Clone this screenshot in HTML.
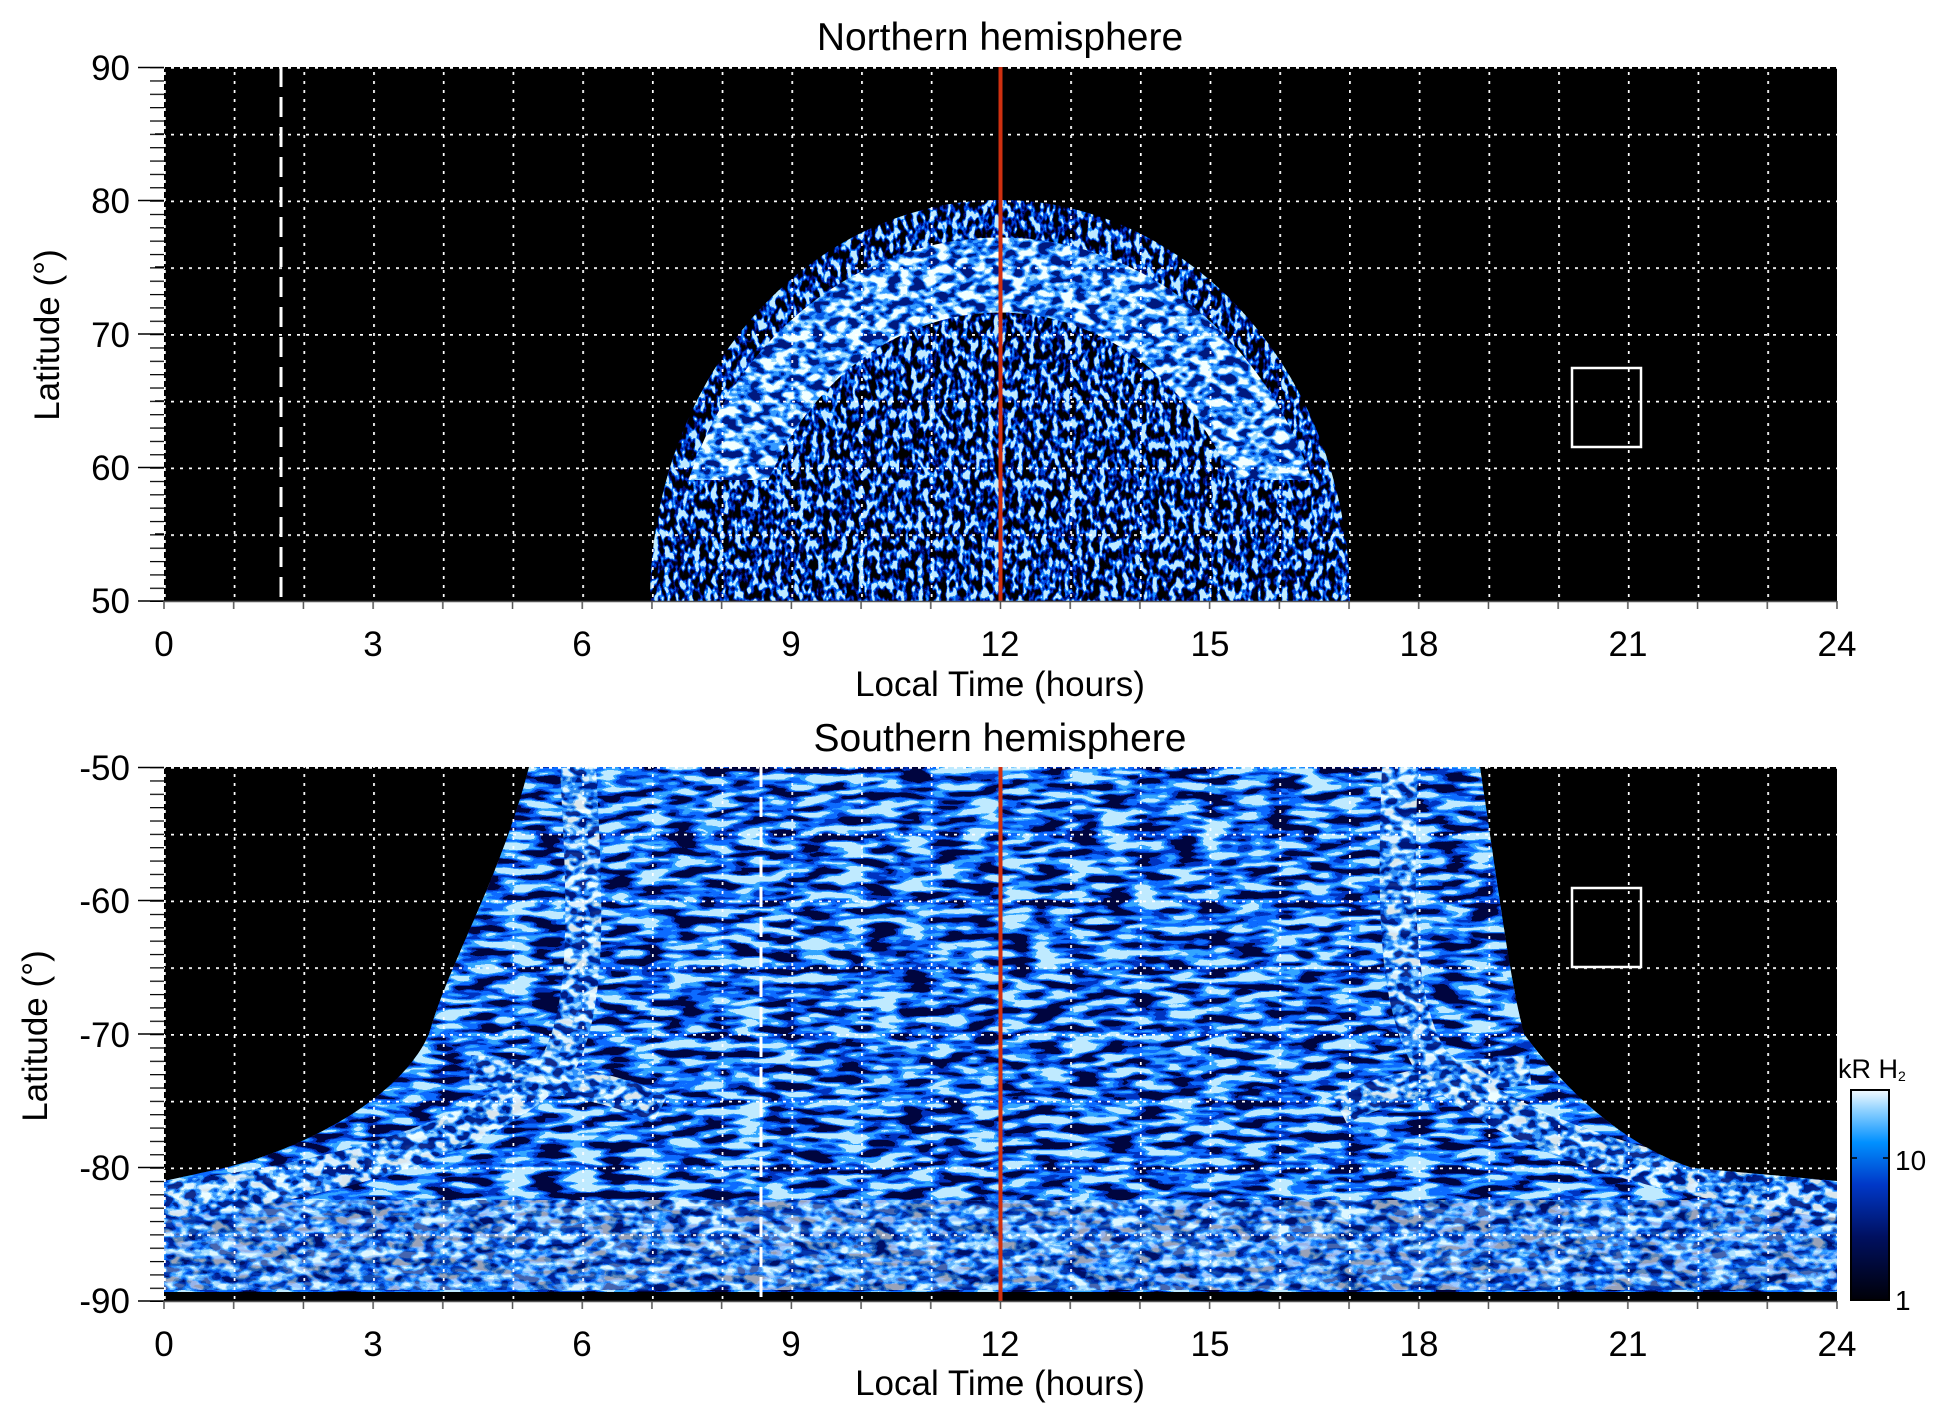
<!DOCTYPE html>
<html><head><meta charset="utf-8"><style>html,body{margin:0;padding:0;background:#fff}svg{display:block}text{font-family:"Liberation Sans",Arial,sans-serif;fill:#000}</style></head>
<body>
<svg width="1950" height="1423" viewBox="0 0 1950 1423" xmlns="http://www.w3.org/2000/svg">
<defs>
<filter id="nd" x="0" y="0" width="1950" height="1423" filterUnits="userSpaceOnUse" color-interpolation-filters="sRGB">
<feTurbulence type="fractalNoise" baseFrequency="0.17 0.1" numOctaves="2" seed="3"/>
<feColorMatrix type="matrix" values="3.2 0 0 0 -1.1  3.2 0 0 0 -1.1  3.2 0 0 0 -1.1  0 0 0 0 1"/>
<feComponentTransfer><feFuncR type="discrete" tableValues="0 0 0 0 0.1 0.75"/><feFuncG type="discrete" tableValues="0 0 0.05 0.25 0.55 0.92"/><feFuncB type="discrete" tableValues="0 0.12 0.45 0.85 1 1"/></feComponentTransfer>
</filter>
<filter id="nb" x="0" y="0" width="1950" height="1423" filterUnits="userSpaceOnUse" color-interpolation-filters="sRGB">
<feTurbulence type="fractalNoise" baseFrequency="0.08 0.12" numOctaves="2" seed="7"/>
<feColorMatrix type="matrix" values="3 0 0 0 -1  3 0 0 0 -1  3 0 0 0 -1  0 0 0 0 1"/>
<feComponentTransfer><feFuncR type="discrete" tableValues="0 0.02 0.2 0.6 0.95"/><feFuncG type="discrete" tableValues="0.1 0.35 0.6 0.85 1"/><feFuncB type="discrete" tableValues="0.5 0.9 1 1 1"/></feComponentTransfer>
</filter>
<filter id="nm" x="0" y="0" width="1950" height="1423" filterUnits="userSpaceOnUse" color-interpolation-filters="sRGB">
<feTurbulence type="fractalNoise" baseFrequency="0.03 0.12" numOctaves="2" seed="11"/>
<feColorMatrix type="matrix" values="3 0 0 0 -1  3 0 0 0 -1  3 0 0 0 -1  0 0 0 0 1"/>
<feComponentTransfer><feFuncR type="discrete" tableValues="0 0 0.05 0.2 0.75"/><feFuncG type="discrete" tableValues="0.02 0.2 0.42 0.65 0.92"/><feFuncB type="discrete" tableValues="0.25 0.75 1 1 1"/></feComponentTransfer>
</filter>
<clipPath id="cpT"><rect x="164" y="67" width="1673" height="534"/></clipPath>
<clipPath id="cpB"><rect x="164" y="767" width="1673" height="534"/></clipPath>
<clipPath id="dome"><ellipse cx="1000" cy="601" rx="350" ry="401"/></clipPath>
<mask id="ring"><rect x="0" y="0" width="1950" height="1423" fill="#000"/><ellipse cx="1000" cy="610" rx="295" ry="335" fill="none" stroke="#fff" stroke-width="75"/><rect x="0" y="480" width="1950" height="200" fill="#000"/></mask>
<clipPath id="south"><path d="M529,767 L1480,767 C1500,900 1510,980 1524,1034 C1580,1110 1640,1150 1692,1168 L1837,1181 L1837,1301 L164,1301 L164,1181 L224,1168 C300,1150 400,1100 429,1034 C450,960 500,880 529,767 Z"/></clipPath>
<mask id="sband"><rect x="0" y="0" width="1950" height="1423" fill="#000"/>
<path d="M578,767 C585,900 590,1000 560,1060 C500,1130 350,1180 164,1200" fill="none" stroke="#fff" stroke-width="36"/>
<path d="M1400,767 C1395,900 1395,1000 1430,1060 C1500,1130 1650,1180 1837,1200" fill="none" stroke="#fff" stroke-width="36"/>
<path d="M470,1070 C600,1080 640,1100 660,1110" fill="none" stroke="#fff" stroke-width="30"/>
<path d="M1530,1070 C1400,1080 1360,1100 1340,1110" fill="none" stroke="#fff" stroke-width="30"/>
<rect x="164" y="1200" width="1673" height="90" fill="#fff" opacity="0.7"/>
</mask>
<pattern id="vg" patternUnits="userSpaceOnUse" x="164" y="0" width="69.708" height="1423"><line x1="0.5" y1="0" x2="0.5" y2="1423" stroke="#fff" stroke-width="2.5" stroke-dasharray="3 6"/></pattern>
<pattern id="hgT" patternUnits="userSpaceOnUse" x="0" y="67" width="1950" height="66.75"><line x1="0" y1="0.5" x2="1950" y2="0.5" stroke="#fff" stroke-width="2.5" stroke-dasharray="3 6"/></pattern>
<pattern id="hgB" patternUnits="userSpaceOnUse" x="0" y="767" width="1950" height="66.75"><line x1="0" y1="0.5" x2="1950" y2="0.5" stroke="#fff" stroke-width="2.5" stroke-dasharray="3 6"/></pattern>
<pattern id="ytT" patternUnits="userSpaceOnUse" x="0" y="67" width="1950" height="13.35"><line x1="0" y1="0.5" x2="1950" y2="0.5" stroke="#000" stroke-width="1.5"/></pattern>
<pattern id="ytB" patternUnits="userSpaceOnUse" x="0" y="767" width="1950" height="13.35"><line x1="0" y1="0.5" x2="1950" y2="0.5" stroke="#000" stroke-width="1.5"/></pattern>
<pattern id="xt" patternUnits="userSpaceOnUse" x="163" y="0" width="69.708" height="1423"><line x1="1" y1="0" x2="1" y2="1423" stroke="#555" stroke-width="1.5"/></pattern>
<linearGradient id="cb" x1="0" y1="1" x2="0" y2="0">
<stop offset="0" stop-color="#000008"/><stop offset="0.3" stop-color="#001060"/><stop offset="0.55" stop-color="#0038c8"/><stop offset="0.75" stop-color="#0090ff"/><stop offset="0.9" stop-color="#8cd0ff"/><stop offset="1" stop-color="#f4fbff"/></linearGradient>
</defs>

<!-- TOP PANEL -->
<rect x="164" y="67" width="1673" height="534" fill="#000"/>
<g clip-path="url(#cpT)">
  <g clip-path="url(#dome)">
    <rect x="640" y="190" width="720" height="420" fill="#fff" filter="url(#nd)"/>
  </g>
  <g mask="url(#ring)">
    <rect x="640" y="190" width="720" height="420" fill="#fff" filter="url(#nb)"/>
  </g>
  <rect x="164" y="67" width="1673" height="534" fill="url(#vg)"/>
  <rect x="164" y="67" width="1673" height="534" fill="url(#hgT)"/>
  <line x1="281" y1="67" x2="281" y2="601" stroke="#fff" stroke-width="3" stroke-dasharray="20 10"/>
  <line x1="1000.5" y1="67" x2="1000.5" y2="601" stroke="#d03010" stroke-width="4"/>
  <rect x="1572" y="368" width="69" height="79" fill="none" stroke="#fff" stroke-width="2.5"/>
</g>
<rect x="150" y="67" width="14" height="535" fill="url(#ytT)"/>
<g stroke="#000" stroke-width="1.5">
<line x1="138" y1="67.5" x2="164" y2="67.5"/><line x1="138" y1="200.5" x2="164" y2="200.5"/><line x1="138" y1="334" x2="164" y2="334"/><line x1="138" y1="467.5" x2="164" y2="467.5"/><line x1="138" y1="601" x2="164" y2="601"/>
<line x1="155" y1="134" x2="164" y2="134"/><line x1="155" y1="267" x2="164" y2="267"/><line x1="155" y1="401" x2="164" y2="401"/><line x1="155" y1="534" x2="164" y2="534"/>
</g>
<line x1="164" y1="601.5" x2="1837" y2="601.5" stroke="#555" stroke-width="1.5"/>
<rect x="162" y="601" width="1680" height="8" fill="url(#xt)"/>
<text x="1000" y="50" font-size="39" text-anchor="middle">Northern hemisphere</text>
<g font-size="35" text-anchor="end">
<text x="130" y="80">90</text><text x="130" y="213">80</text><text x="130" y="347">70</text><text x="130" y="480">60</text><text x="130" y="613">50</text>
</g>
<g font-size="35" text-anchor="middle">
<text x="164" y="656">0</text><text x="373" y="656">3</text><text x="582" y="656">6</text><text x="791" y="656">9</text><text x="1000" y="656">12</text><text x="1210" y="656">15</text><text x="1419" y="656">18</text><text x="1628" y="656">21</text><text x="1837" y="656">24</text>
</g>
<text x="1000" y="696" font-size="35" text-anchor="middle">Local Time (hours)</text>
<text transform="translate(59,335) rotate(-90)" font-size="35" text-anchor="middle">Latitude (°)</text>

<!-- BOTTOM PANEL -->
<rect x="164" y="767" width="1673" height="534" fill="#000"/>
<g clip-path="url(#cpB)">
  <g clip-path="url(#south)">
    <rect x="164" y="767" width="1673" height="534" fill="#fff" filter="url(#nd)"/>
    <rect x="164" y="1185" width="1673" height="110" fill="#fff" filter="url(#nm)"/>
    <g mask="url(#sband)"><rect x="164" y="767" width="1673" height="534" fill="#fff" filter="url(#nb)" opacity="0.9"/></g>
  </g>
  <rect x="164" y="1292" width="1673" height="9" fill="#000"/>
  <rect x="164" y="767" width="1673" height="534" fill="url(#vg)"/>
  <rect x="164" y="767" width="1673" height="534" fill="url(#hgB)"/>
  <line x1="761" y1="767" x2="761" y2="1301" stroke="#fff" stroke-width="3" stroke-dasharray="20 10"/>
  <line x1="1000.5" y1="767" x2="1000.5" y2="1301" stroke="#d03010" stroke-width="4"/>
  <rect x="1572" y="888" width="69" height="79" fill="none" stroke="#fff" stroke-width="2.5"/>
</g>
<rect x="150" y="767" width="14" height="535" fill="url(#ytB)"/>
<g stroke="#000" stroke-width="1.5">
<line x1="138" y1="767.5" x2="164" y2="767.5"/><line x1="138" y1="900.5" x2="164" y2="900.5"/><line x1="138" y1="1034" x2="164" y2="1034"/><line x1="138" y1="1167.5" x2="164" y2="1167.5"/><line x1="138" y1="1301" x2="164" y2="1301"/>
</g>
<line x1="164" y1="1301.5" x2="1837" y2="1301.5" stroke="#555" stroke-width="1.5"/>
<rect x="162" y="1301" width="1680" height="8" fill="url(#xt)"/>
<text x="1000" y="751" font-size="39" text-anchor="middle">Southern hemisphere</text>
<g font-size="35" text-anchor="end">
<text x="130" y="780">-50</text><text x="130" y="913">-60</text><text x="130" y="1047">-70</text><text x="130" y="1180">-80</text><text x="130" y="1313">-90</text>
</g>
<g font-size="35" text-anchor="middle">
<text x="164" y="1356">0</text><text x="373" y="1356">3</text><text x="582" y="1356">6</text><text x="791" y="1356">9</text><text x="1000" y="1356">12</text><text x="1210" y="1356">15</text><text x="1419" y="1356">18</text><text x="1628" y="1356">21</text><text x="1837" y="1356">24</text>
</g>
<text x="1000" y="1395" font-size="35" text-anchor="middle">Local Time (hours)</text>
<text transform="translate(47,1036) rotate(-90)" font-size="35" text-anchor="middle">Latitude (°)</text>

<!-- COLORBAR -->
<rect x="1851" y="1090" width="38" height="210" fill="url(#cb)" stroke="#000" stroke-width="2"/>
<g stroke="#000" stroke-width="1.5"><line x1="1851" y1="1158" x2="1857" y2="1158"/><line x1="1883" y1="1158" x2="1889" y2="1158"/></g>
<text x="1895" y="1170" font-size="28">10</text>
<text x="1895" y="1310" font-size="28">1</text>
<text x="1838" y="1078" font-size="27">kR H<tspan font-size="14" dy="3">2</tspan></text>
</svg>
</body></html>
